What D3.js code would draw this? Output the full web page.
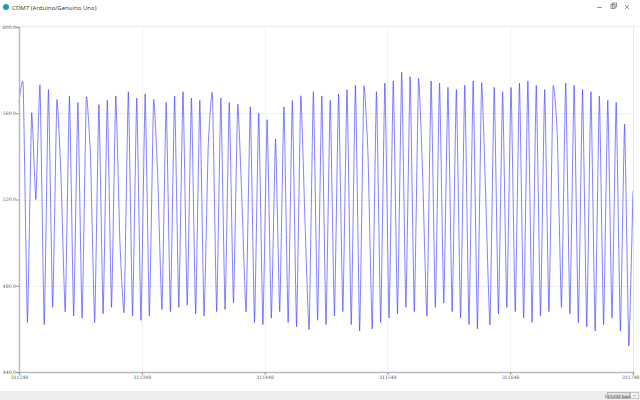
<!DOCTYPE html>
<html><head><meta charset="utf-8">
<script src="https://cdn.jsdelivr.net/npm/d3@7"></script>
<style>html,body{margin:0;padding:0;background:#fff;overflow:hidden}svg{display:block}</style>
</head><body>
<script>
// ---- data ----
const windowTitle = "COM7 (Arduino/Genuino Uno)";
const baudLabel = "115200 baud";
const yTicks = [440, 480, 520, 560, 600];
const xStart = 311248;
const xTickLabels = ["311248", "311348", "311448", "311548", "311648", "311748"];
// turning points of the plotted signal, left to right
const signal = [
 565,573,463,560,520,573,462,571,470,566,530,468,568,466,565,465,567,540,463,564,
 467,566,470,568,500,468,570,466,567,464,569,466,566,530,469,565,468,568,470,570,
 471,567,467,566,466,545,569,468,567,469,565,472,564,520,468,563,463,560,462,557,
 465,548,468,563,463,566,461,568,510,460,570,464,568,462,566,466,569,468,571,462,
 573,459,572,540,460,570,463,574,465,575,467,579,470,577,468,576,530,466,575,470,
 574,472,572,468,571,465,573,462,575,460,574,520,462,572,467,570,470,572,468,574,
 465,575,463,573,466,571,468,572,550,470,574,467,573,463,571,461,570,459,568,462,
 566,465,565,459,555,452,524
];
const nSamples = 500;

// ---- layout ----
const W = 640, H = 400;
const plot = {left: 19, right: 633, top: 27, bottom: 372};

const svg = d3.select("body").append("svg").attr("width", W).attr("height", H);
svg.append("rect").attr("width", W).attr("height", H).attr("fill", "#fff");

// title bar
svg.append("circle").attr("cx", 6).attr("cy", 7).attr("r", 3).attr("fill", "#17a1a5");
svg.append("text").attr("x", 12).attr("y", 9.5).text(windowTitle)
  .attr("font-family", "Segoe UI, Noto Sans, sans-serif").attr("font-size", 6).attr("fill", "#444");
const ctl = svg.append("g").attr("stroke", "#666").attr("stroke-width", 0.7).attr("fill", "none");
ctl.append("line").attr("x1", 597).attr("x2", 602).attr("y1", 7.5).attr("y2", 7.5);
ctl.append("rect").attr("x", 611).attr("y", 4.5).attr("width", 4).attr("height", 4);
ctl.append("rect").attr("x", 612.5).attr("y", 3).attr("width", 4).attr("height", 4);
ctl.append("line").attr("x1", 625).attr("x2", 629).attr("y1", 5).attr("y2", 9);
ctl.append("line").attr("x1", 629).attr("x2", 625).attr("y1", 5).attr("y2", 9);

// separator
svg.append("line").attr("x1", 0).attr("x2", 640).attr("y1", 26.5).attr("y2", 26.5)
  .attr("stroke", "#eee").attr("stroke-width", 1);

// scales
const x = d3.scaleLinear().domain([xStart, xStart + nSamples]).range([plot.left, plot.right]);
const y = d3.scaleLinear().domain([440, 600]).range([plot.bottom, plot.top]);
const xTickVals = xTickLabels.map(Number);

// grid
const grid = svg.append("g").attr("stroke", "#f2f2f2").attr("stroke-width", 1);
grid.selectAll("line.v").data(xTickVals.slice(1)).join("line")
  .attr("x1", d => Math.round(x(d)) + 0.5).attr("x2", d => Math.round(x(d)) + 0.5)
  .attr("y1", plot.top).attr("y2", plot.bottom);
grid.selectAll("line.h").data(yTicks.slice(1, -1)).join("line")
  .attr("x1", plot.left).attr("x2", plot.right)
  .attr("y1", d => Math.round(y(d)) + 0.5).attr("y2", d => Math.round(y(d)) + 0.5);

// signal line
const step = nSamples / (signal.length - 1);
const line = d3.line()
  .x((d, i) => x(xStart + i * step))
  .y(d => y(d))
  .curve(d3.curveCardinal.tension(0.6));
svg.append("path").datum(signal).attr("d", line)
  .attr("fill", "none").attr("stroke", "#2b2bff").attr("stroke-width", 0.6)
  .attr("stroke-linejoin", "miter");

// axes
const yAxis = d3.axisLeft(y).tickValues(yTicks).tickSize(3).tickFormat(d3.format(".1f"));
const gy = svg.append("g").attr("transform", `translate(${plot.left},0)`).call(yAxis);
const xAxis = d3.axisBottom(x).tickValues(xTickVals).tickSize(3).tickFormat((d, i) => xTickLabels[i]);
const gx = svg.append("g").attr("transform", `translate(0,${plot.bottom})`).call(xAxis);
[gy, gx].forEach(g => {
  g.select(".domain").attr("stroke", "#bbb").attr("stroke-width", 1.5);
  g.selectAll(".tick line").attr("stroke", "#999");
  g.selectAll("text").attr("font-family", "DejaVu Serif, serif").attr("font-size", 4.6).attr("fill", "#555");
});
gy.selectAll("text").attr("x", -3);
gx.selectAll("text").attr("y", 4);
gx.selectAll(".tick").filter((d, i, n) => i === n.length - 1).select("text")
  .attr("text-anchor", "end").attr("x", 6);
// right border
svg.append("line").attr("x1", plot.right + 0.5).attr("x2", plot.right + 0.5)
  .attr("y1", plot.top).attr("y2", plot.bottom).attr("stroke", "#e8e8e8");

// bottom bar
svg.append("rect").attr("x", 0).attr("y", 391).attr("width", W).attr("height", 9).attr("fill", "#eeeeee");
svg.append("rect").attr("x", 607.5).attr("y", 392.5).attr("width", 22).attr("height", 6)
  .attr("fill", "#e4e4e4").attr("stroke", "#999").attr("stroke-width", 0.6);
svg.append("text").attr("x", 618.5).attr("y", 397.5).attr("text-anchor", "middle").text(baudLabel)
  .attr("font-family", "DejaVu Sans, sans-serif").attr("font-size", 4.2).attr("fill", "#333");
svg.append("rect").attr("x", 630.5).attr("y", 392.5).attr("width", 8).attr("height", 6)
  .attr("fill", "#f4f4f4").attr("stroke", "#aaa").attr("stroke-width", 0.6);
svg.append("path").attr("d", "M632.8,394.8 L634.5,396.5 L636.2,394.8").attr("fill", "none")
  .attr("stroke", "#555").attr("stroke-width", 0.5);
</script>
</body></html>
